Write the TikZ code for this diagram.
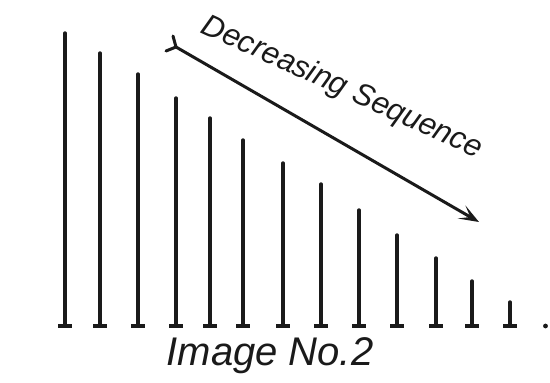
\documentclass[tikz,border=0pt]{standalone}
\usepackage{fontspec}
\setmainfont{Liberation Sans}
\usetikzlibrary{arrows.meta}
\definecolor{ink}{HTML}{1A1A1A}
\tikzset{
  bar/.style={draw=ink, line width=3.4pt, line cap=round},
  foot/.style={draw=ink, line width=3.2pt},
  arrowline/.style={draw=ink, line width=3pt, line cap=round, -{Stealth[length=20pt,width=15pt,inset=10pt]}},
  hand/.style={text=ink, font=\itshape, inner sep=0pt}
}
\begin{document}
\begin{tikzpicture}[x=1pt,y=-1pt]
\useasboundingbox (0,0) rectangle (550,383);
\fill[white] (0,0) rectangle (550,383);
% bars: x, top
\foreach \x/\t [count=\i] in {65/33, 100/53, 138/74, 176/98, 210/118, 243/140, 283/163, 321/184, 359/210, 397/235, 436/258, 472/281, 510/302}{
  \coordinate (top\i) at (\x,\t);
  \coordinate (bot\i) at (\x,326);
  \draw[bar] (top\i) -- (bot\i);
  \draw[foot] ([xshift=-7pt]bot\i) -- ([xshift=7pt]bot\i);
}
\fill[ink] (545.5,326) circle (2.4pt);
% arrow
\coordinate (tail) at (176,47);
\coordinate (head) at (479,222);
\coordinate (fu) at (173,36);
\coordinate (fl) at (166,51);
\draw[arrowline] (tail) -- (head);
\draw[draw=ink, line width=3pt, line cap=round] (fu) -- (tail) -- (fl);
\node[hand, font=\itshape\fontsize{31}{31}\selectfont, rotate=-24.5, anchor=center] (lab) at (342,88) {Decreasing Sequence};
\node[hand, font=\itshape\fontsize{40}{40}\selectfont, anchor=center] (cap) at (270,356) {Image No.2};
\end{tikzpicture}
\end{document}
